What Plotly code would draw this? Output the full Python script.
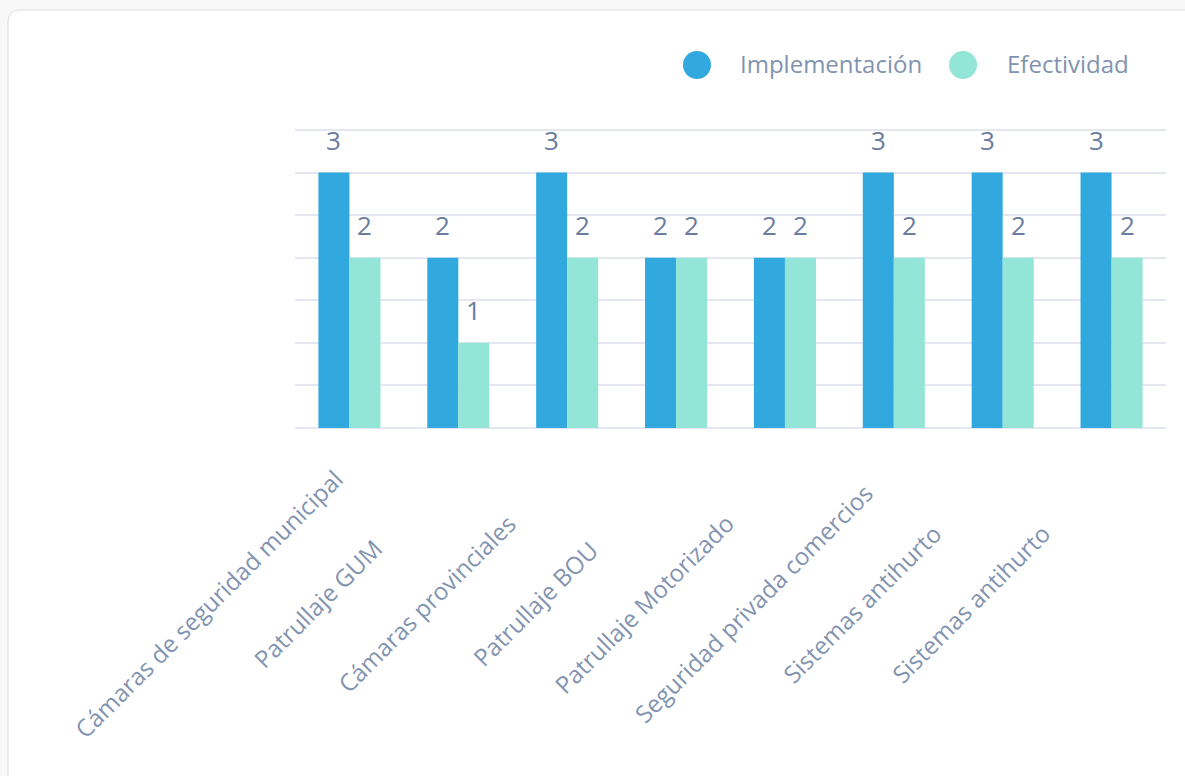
import plotly.graph_objects as go

categories = [
    "Cámaras de seguridad municipal",
    "Patrullaje GUM",
    "Cámaras provinciales",
    "Patrullaje BOU",
    "Patrullaje Motorizado",
    "Seguridad privada comercios",
    "Sistemas antihurto",
    "Sistemas antihurto",
]
implementacion = [3, 2, 3, 2, 2, 3, 3, 3]
efectividad = [2, 1, 2, 2, 2, 2, 2, 2]
y_ticks = [0, 0.5, 1, 1.5, 2, 2.5, 3, 3.5]

series = [
    ("Implementación", implementacion, "#32a9de"),
    ("Efectividad", efectividad, "#93e6d7"),
]

FONT = "Open Sans"
LABEL_COLOR = "#6a7d9e"
TICK_COLOR = "#8293b0"
GRID = "#e4e7ef"

# layout geometry (pixels)
W, H = 1185, 776
ML, MR, MT, MB = 295, 19, 128, 348
PW, PH = W - ML - MR, H - MT - MB
BARGAP = 0.43
Y_TOP = 3.5 * PH / 298  # a little headroom so the 3.5 grid line is drawn


def px2paper(px, py):
    return (px - ML) / PW, (H - MB - py) / PH


xpos = list(range(len(categories)))

fig = go.Figure()
for name, vals, color in series:
    fig.add_trace(go.Bar(
        x=xpos, y=vals, name=name, marker=dict(color=color, line=dict(width=0)),
        showlegend=False, hovertext=categories, hoverinfo="name+text+y",
    ))

annotations = []

# data labels above bars
bw = (1 - BARGAP) / len(series)
for si, (name, vals, color) in enumerate(series):
    off = (si - (len(series) - 1) / 2) * bw
    for i, v in enumerate(vals):
        annotations.append(dict(
            x=xpos[i] + off, y=v, xref="x", yref="y", text=str(v),
            showarrow=False, yanchor="middle", xanchor="center", yshift=33,
            font=dict(family=FONT, size=26, color=LABEL_COLOR),
        ))

# rotated category labels (centred below each category, rotated -45°)
_, label_y = px2paper(0, 603)
for i, cat in enumerate(categories):
    annotations.append(dict(
        x=xpos[i], y=label_y, xref="x", yref="paper", text=cat,
        showarrow=False, textangle=-45, xanchor="center", yanchor="middle",
        xshift=-141, font=dict(family=FONT, size=24, color=TICK_COLOR),
    ))

shapes = []
# card background
cx0, cy1 = px2paper(8, 10)
cx1, cy0 = px2paper(1200, 790)
rx, ry = 12 / PW, 12 / PH
path = (f"M {cx0+rx},{cy1} L {cx1-rx},{cy1} Q {cx1},{cy1} {cx1},{cy1-ry} "
        f"L {cx1},{cy0+ry} Q {cx1},{cy0} {cx1-rx},{cy0} L {cx0+rx},{cy0} "
        f"Q {cx0},{cy0} {cx0},{cy0+ry} L {cx0},{cy1-ry} Q {cx0},{cy1} {cx0+rx},{cy1} Z")
shapes.append(dict(type="path", path=path, xref="paper", yref="paper",
                   fillcolor="white", line=dict(color="#dcdcdc", width=1), layer="below"))

# legend (circle markers + text)
legend_items = [("Implementación", "#32a9de", 697, 738), ("Efectividad", "#93e6d7", 963, 1005)]
for text, color, ccx, tx in legend_items:
    px_, py_ = px2paper(ccx, 65)
    r = 14
    shapes.append(dict(type="circle", xref="paper", yref="paper",
                       x0=px_ - r / PW, x1=px_ + r / PW, y0=py_ - r / PH, y1=py_ + r / PH,
                       fillcolor=color, line=dict(width=0)))
    tx_, ty_ = px2paper(tx, 64)
    annotations.append(dict(x=tx_, y=ty_, xref="paper", yref="paper", text=text,
                            showarrow=False, xanchor="left", yanchor="middle",
                            font=dict(family=FONT, size=24, color=TICK_COLOR)))

fig.update_layout(
    width=W, height=H,
    margin=dict(l=ML, r=MR, t=MT, b=MB, autoexpand=False),
    paper_bgcolor="#f8f8f8", plot_bgcolor="rgba(0,0,0,0)",
    barmode="group", bargap=BARGAP, bargroupgap=0,
    font=dict(family=FONT, color=TICK_COLOR),
    showlegend=False,
    xaxis=dict(
        tickmode="array", tickvals=xpos, ticktext=categories, showticklabels=False,
        range=[-0.5, len(categories) - 0.5], showgrid=False, zeroline=False,
        showline=False, ticks="", automargin=False,
    ),
    yaxis=dict(
        range=[0, Y_TOP], tickmode="array", tickvals=y_ticks, showticklabels=False,
        showgrid=True, gridcolor=GRID, gridwidth=2, zeroline=True,
        zerolinecolor=GRID, zerolinewidth=2, showline=False, ticks="", automargin=False,
    ),
    annotations=annotations,
    shapes=shapes,
)

fig.write_html(
    "out.html",
    config={"displayModeBar": False},
    post_script="document.body.style.margin='0';document.body.style.overflow='hidden';"
                "document.body.style.background='#f8f8f8';",
)
